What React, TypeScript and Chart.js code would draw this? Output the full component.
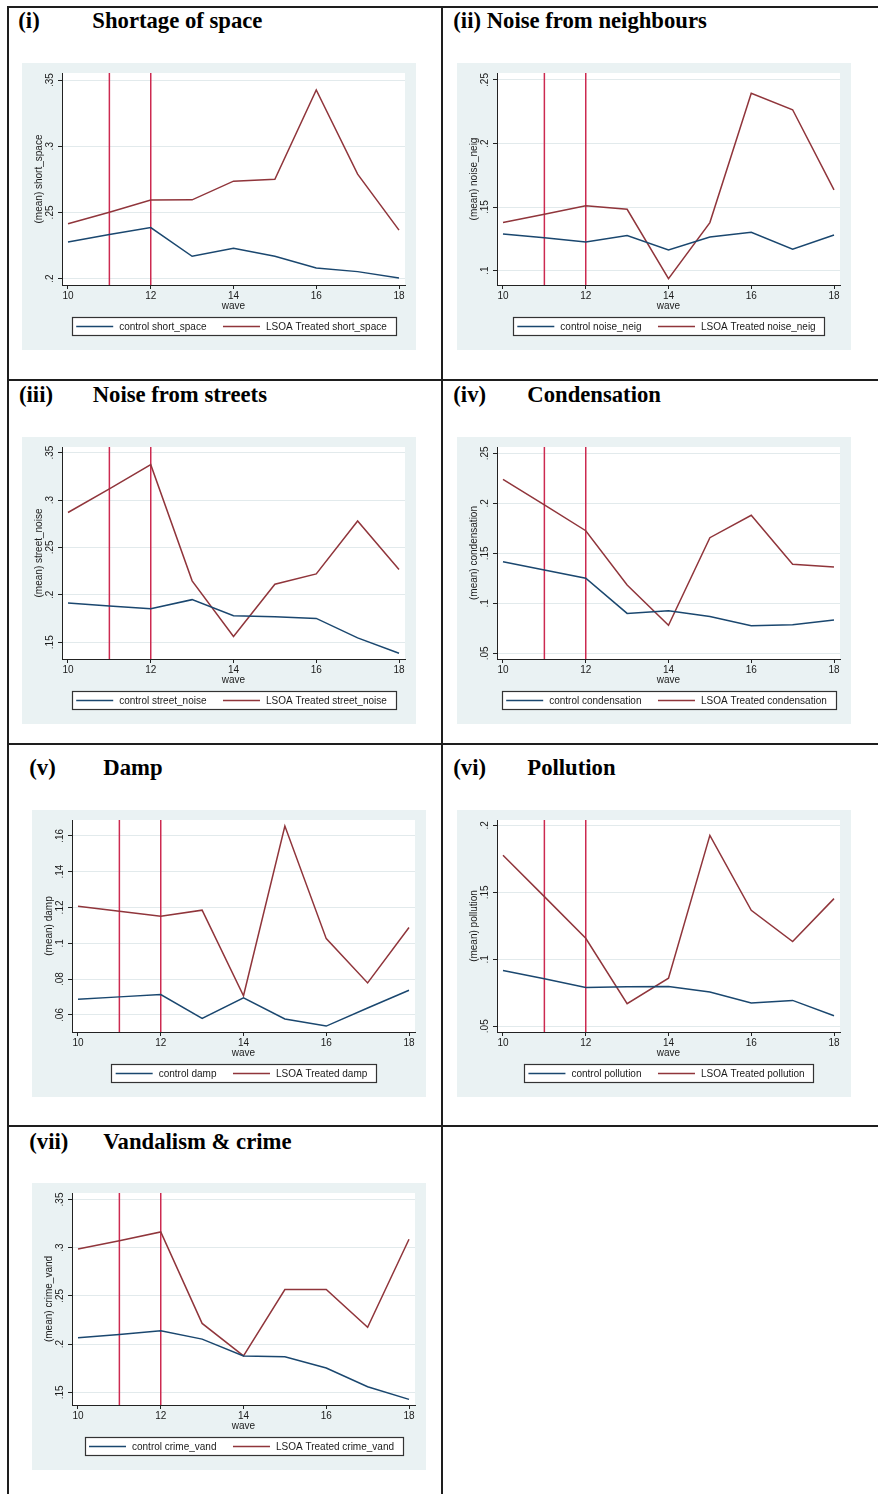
import React, { useEffect, useRef } from 'react';
import { Chart, registerables } from 'chart.js';

Chart.register(...registerables);

// ---------- data ----------
const waves = [10, 11, 12, 13, 14, 15, 16, 17, 18];
const xTicks = [10, 12, 14, 16, 18];
const interventionWaves = [11, 12];

const shortSpaceControl = [0.2277, 0.2333, 0.2386, 0.2169, 0.2229, 0.2169, 0.2081, 0.2053, 0.2005];
const shortSpaceTreated = [0.2414, 0.2502, 0.2593, 0.2595, 0.2736, 0.2751, 0.3425, 0.2789, 0.2366];
const shortSpaceTicks = [0.2, 0.25, 0.3, 0.35];
const shortSpaceRange = [0.1952, 0.3553];

const noiseNeigControl = [0.1289, 0.1258, 0.1226, 0.1276, 0.1163, 0.1265, 0.1302, 0.1168, 0.1281];
const noiseNeigTreated = [0.1378, 0.1444, 0.151, 0.1483, 0.0937, 0.1378, 0.2395, 0.2266, 0.1636];
const noiseNeigTicks = [0.1, 0.15, 0.2, 0.25];
const noiseNeigRange = [0.0887, 0.2555];

const streetNoiseControl = [0.1913, 0.1882, 0.1853, 0.1949, 0.1779, 0.1769, 0.1751, 0.1546, 0.1383];
const streetNoiseTreated = [0.2868, 0.3118, 0.3373, 0.2147, 0.156, 0.2111, 0.2221, 0.2779, 0.2267];
const streetNoiseTicks = [0.15, 0.2, 0.25, 0.3, 0.35];
const streetNoiseRange = [0.1323, 0.3559];

const condensationControl = [0.1415, 0.1334, 0.125, 0.0899, 0.0925, 0.0869, 0.0775, 0.0785, 0.0832];
const condensationTreated = [0.2239, 0.1984, 0.1726, 0.1183, 0.0781, 0.1656, 0.188, 0.1391, 0.1364];
const condensationTicks = [0.05, 0.1, 0.15, 0.2, 0.25];
const condensationRange = [0.0443, 0.2563];

const dampControl = [0.0688, 0.0701, 0.0714, 0.0581, 0.0695, 0.0578, 0.0538, 0.0639, 0.0738];
const dampTreated = [0.1207, 0.1179, 0.1151, 0.1185, 0.0707, 0.1654, 0.1026, 0.0779, 0.1088];
const dampTicks = [0.06, 0.08, 0.1, 0.12, 0.14, 0.16];
const dampRange = [0.0505, 0.1688];

const pollutionControl = [0.0916, 0.0854, 0.0789, 0.0794, 0.0796, 0.0756, 0.0673, 0.0693, 0.0578];
const pollutionTreated = [0.1777, 0.1468, 0.1157, 0.0668, 0.0859, 0.1925, 0.1366, 0.1132, 0.1453];
const pollutionTicks = [0.05, 0.1, 0.15, 0.2];
const pollutionRange = [0.0457, 0.204];

const crimeVandControl = [0.2066, 0.2101, 0.2139, 0.2052, 0.1878, 0.1868, 0.1753, 0.1559, 0.1427];
const crimeVandTreated = [0.2986, 0.3073, 0.3163, 0.2215, 0.1878, 0.2566, 0.2566, 0.2174, 0.3087];
const crimeVandTicks = [0.15, 0.2, 0.25, 0.3, 0.35];
const crimeVandRange = [0.1369, 0.3567];

// ---------- styles ----------
const NAVY = '#1a476f';
const MAROON = '#90353b';
const XLINE = '#cc2a50';
const BG = '#eaf2f3';
const GRID = '#e2eaec';
const AXIS = '#222';
const TXT = '#1a1a1a';
const SANS = '"Liberation Sans", Arial, sans-serif';
const SERIF = '"Liberation Serif", "Times New Roman", serif';
const PW = 394;
const PH = 287;

type PanelCfg = {
  varName: string;
  control: number[];
  treated: number[];
  ticks: number[];
  range: number[];
  left: number;
  top: number;
};

const panels: PanelCfg[] = [
  { varName: 'short_space', control: shortSpaceControl, treated: shortSpaceTreated, ticks: shortSpaceTicks, range: shortSpaceRange, left: 22, top: 63 },
  { varName: 'noise_neig', control: noiseNeigControl, treated: noiseNeigTreated, ticks: noiseNeigTicks, range: noiseNeigRange, left: 457, top: 63 },
  { varName: 'street_noise', control: streetNoiseControl, treated: streetNoiseTreated, ticks: streetNoiseTicks, range: streetNoiseRange, left: 22, top: 437 },
  { varName: 'condensation', control: condensationControl, treated: condensationTreated, ticks: condensationTicks, range: condensationRange, left: 457, top: 437 },
  { varName: 'damp', control: dampControl, treated: dampTreated, ticks: dampTicks, range: dampRange, left: 32, top: 810 },
  { varName: 'pollution', control: pollutionControl, treated: pollutionTreated, ticks: pollutionTicks, range: pollutionRange, left: 457, top: 810 },
  { varName: 'crime_vand', control: crimeVandControl, treated: crimeVandTreated, ticks: crimeVandTicks, range: crimeVandRange, left: 32, top: 1183 },
];

type TitlePart = { text: string; left: number; baseline: number };
const titles: TitlePart[] = [
  { text: '(i)', left: 18.3, baseline: 29.4 },
  { text: 'Shortage of space', left: 92.3, baseline: 29.4 },
  { text: '(ii) Noise from neighbours', left: 453.3, baseline: 29.4 },
  { text: '(iii)', left: 19, baseline: 402.7 },
  { text: 'Noise from streets', left: 92.7, baseline: 402.7 },
  { text: '(iv)', left: 453.3, baseline: 403.3 },
  { text: 'Condensation', left: 527.3, baseline: 403.3 },
  { text: '(v)', left: 29.3, baseline: 776.5 },
  { text: 'Damp', left: 103.3, baseline: 776.5 },
  { text: '(vi)', left: 453.3, baseline: 775.7 },
  { text: 'Pollution', left: 527.3, baseline: 775.7 },
  { text: '(vii)', left: 29.3, baseline: 1149.7 },
  { text: 'Vandalism & crime', left: 103.3, baseline: 1149.7 },
];
const TITLE_SIZE = 22.7;

const fmtTick = (v: number) => String(v).replace(/^0\./, '.');

// Stata-style panel: light graph region, white plot region, boxed legend under the plot
const decorPlugin = {
  id: 'stataDecor',
  beforeDraw(chart: any) {
    const { ctx, chartArea: a } = chart;
    ctx.save();
    ctx.fillStyle = BG;
    ctx.fillRect(0, 0, chart.width, chart.height);
    ctx.fillStyle = '#ffffff';
    ctx.fillRect(a.left, a.top, a.right - a.left, a.bottom - a.top);
    ctx.restore();
  },
  afterDraw(chart: any) {
    const { ctx, chartArea: a } = chart;
    const items = chart.data.datasets.slice(0, 2);
    ctx.save();
    ctx.font = `10px ${SANS}`;
    const sample = 37;
    const gapText = 6;
    const gapItem = 16.5;
    const padL = 4.5;
    const padR = 8.5;
    const widths = items.map((d: any) => ctx.measureText(d.label).width);
    const total =
      padL + padR + items.length * (sample + gapText) + widths.reduce((s: number, w: number) => s + w, 0) + gapItem * (items.length - 1);
    const cx = (a.left + a.right) / 2;
    const x0 = cx - total / 2;
    const top = a.bottom + 32.5;
    const h = 18;
    const bx = Math.round(x0) + 0.5;
    const bw = Math.round(total);
    ctx.fillStyle = '#ffffff';
    ctx.fillRect(bx, top, bw, h);
    ctx.strokeStyle = '#333333';
    ctx.lineWidth = 1.2;
    ctx.strokeRect(bx, top, bw, h);
    const midY = top + h / 2;
    let x = x0 + padL;
    items.forEach((d: any, i: number) => {
      ctx.strokeStyle = d.borderColor;
      ctx.lineWidth = 1.5;
      ctx.beginPath();
      ctx.moveTo(x, midY);
      ctx.lineTo(x + sample, midY);
      ctx.stroke();
      x += sample + gapText;
      ctx.fillStyle = TXT;
      ctx.textBaseline = 'middle';
      ctx.textAlign = 'left';
      ctx.fillText(d.label, x, midY + 0.5);
      x += widths[i] + gapItem;
    });
    ctx.restore();
  },
};

function Panel({ cfg }: { cfg: PanelCfg }) {
  const ref = useRef<HTMLCanvasElement>(null);
  useEffect(() => {
    const canvas = ref.current;
    if (!canvas) return;
    const font = { family: SANS, size: 10 };
    const chart = new Chart(canvas, {
      type: 'line',
      data: {
        datasets: [
          {
            label: 'control ' + cfg.varName,
            data: waves.map((w, i) => ({ x: w, y: cfg.control[i] })),
            borderColor: NAVY,
            backgroundColor: NAVY,
            borderWidth: 1.5,
            pointRadius: 0,
            tension: 0,
          },
          {
            label: 'LSOA Treated ' + cfg.varName,
            data: waves.map((w, i) => ({ x: w, y: cfg.treated[i] })),
            borderColor: MAROON,
            backgroundColor: MAROON,
            borderWidth: 1.5,
            pointRadius: 0,
            tension: 0,
          },
          ...interventionWaves.map((w) => ({
            label: 'wave ' + w,
            data: [
              { x: w, y: cfg.range[0] },
              { x: w, y: cfg.range[1] },
            ],
            borderColor: XLINE,
            backgroundColor: XLINE,
            borderWidth: 1.5,
            pointRadius: 0,
            tension: 0,
          })),
        ],
      },
      options: {
        animation: false,
        responsive: false,
        maintainAspectRatio: false,
        events: [],
        layout: { padding: { left: 0, right: 11, top: 10, bottom: 45 } },
        scales: {
          x: {
            type: 'linear',
            bounds: 'data',
            min: 9.855,
            max: 18.145,
            afterBuildTicks: (s: any) => {
              s.ticks = xTicks.map((v) => ({ value: v }));
            },
            afterFit: (s: any) => {
              s.height = 20;
            },
            ticks: {
              autoSkip: false,
              maxRotation: 0,
              padding: 1.7,
              color: TXT,
              font,
              callback: (v: any) => String(v),
            },
            grid: { drawOnChartArea: false, tickLength: 4, tickColor: AXIS, tickWidth: 1 },
            border: { display: true, color: AXIS, width: 1 },
            title: {
              display: true,
              text: 'wave',
              color: TXT,
              font,
              padding: { top: 0, bottom: -7 },
            },
          },
          y: {
            type: 'linear',
            bounds: 'data',
            min: cfg.range[0],
            max: cfg.range[1],
            afterBuildTicks: (s: any) => {
              s.ticks = cfg.ticks.map((v) => ({ value: v }));
            },
            afterFit: (s: any) => {
              s.width = 40;
            },
            ticks: {
              autoSkip: false,
              minRotation: 90,
              maxRotation: 90,
              crossAlign: 'center',
              padding: 1,
              color: TXT,
              font,
              callback: (v: any) => fmtTick(Number(v)),
            },
            grid: { color: GRID, lineWidth: 1, tickLength: 4, tickColor: AXIS, tickWidth: 1 },
            border: { display: true, color: AXIS, width: 1 },
            title: {
              display: true,
              text: '(mean) ' + cfg.varName,
              color: TXT,
              font,
              padding: { top: 11.5, bottom: 0 },
            },
          },
        },
        plugins: {
          legend: { display: false },
          tooltip: { enabled: false },
          title: { display: false },
        },
      } as any,
      plugins: [decorPlugin],
    });
    return () => chart.destroy();
  }, [cfg]);
  return (
    <canvas
      ref={ref}
      width={PW}
      height={PH}
      style={{ position: 'absolute', left: cfg.left, top: cfg.top, width: PW, height: PH }}
    />
  );
}

const LINE = '#1e1e1e';
const rules = [
  { left: 7, top: 6, width: 871, height: 2 },
  { left: 7, top: 6, width: 2, height: 1488 },
  { left: 441, top: 6, width: 2, height: 1488 },
  { left: 7, top: 379, width: 871, height: 2 },
  { left: 7, top: 743, width: 871, height: 2 },
  { left: 7, top: 1125, width: 871, height: 2 },
];

export default function App() {
  return (
    <div
      style={{
        position: 'absolute',
        left: 0,
        top: 0,
        width: 878,
        height: 1494,
        overflow: 'hidden',
        background: '#ffffff',
      }}
    >
      {rules.map((r, i) => (
        <div key={'r' + i} style={{ position: 'absolute', ...r, background: LINE }} />
      ))}
      {titles.map((t, i) => (
        <div
          key={'t' + i}
          style={{
            position: 'absolute',
            left: t.left,
            top: t.baseline - 0.8375 * TITLE_SIZE,
            fontFamily: SERIF,
            fontWeight: 'bold',
            fontSize: TITLE_SIZE,
            lineHeight: 1,
            whiteSpace: 'nowrap',
            color: '#000',
          }}
        >
          {t.text}
        </div>
      ))}
      {panels.map((p) => (
        <Panel key={p.varName} cfg={p} />
      ))}
    </div>
  );
}
